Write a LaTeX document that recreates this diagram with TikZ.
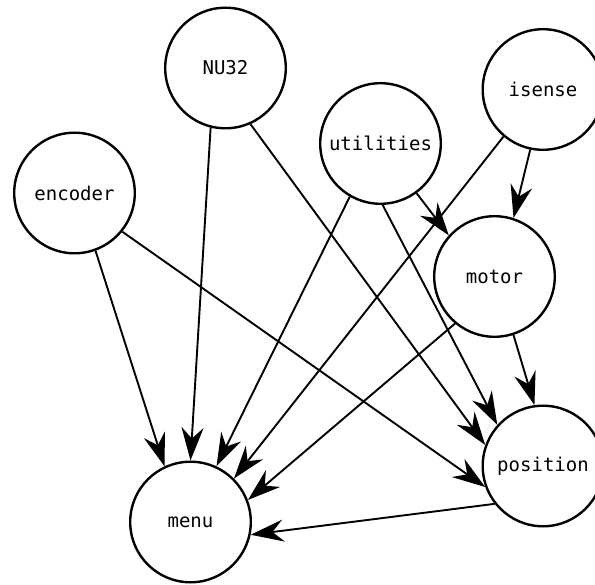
\documentclass[tikz,border=0pt]{standalone}
\usepackage{fontspec}
\setmonofont{DejaVu Sans Mono}
\usetikzlibrary{arrows.meta}
\begin{document}
\begin{tikzpicture}[x=1pt,y=-1pt,
  mod/.style={circle,draw,line width=2.4pt,minimum size=120.6pt,inner sep=0pt,fill=white,
    font=\ttfamily\fontsize{19}{23}\selectfont},
  dep/.style={line width=1.9pt,-{Stealth[length=33pt,width=22pt,inset=11pt]}}]
\useasboundingbox (0,0) rectangle (595,585);
\node[mod] (nu32) at (225.5,68) {NU32};
\node[mod] (isense) at (543,89.5) {isense};
\node[mod] (util) at (380.5,143.5) {utilities};
\node[mod] (enc) at (74.5,193) {encoder};
\node[mod] (motor) at (494.5,276.5) {motor};
\node[mod] (pos) at (543,466) {position};
\node[mod] (menu) at (190.5,522) {menu};

\draw[dep] (nu32.256.6) -- (menu.90.5);
\draw[dep] (nu32.294.7) -- (pos.160);
\draw[dep] (util.240.8) -- (menu.65.9);
\draw[dep] (util.306) -- (motor.138.6);
\draw[dep] (util.272) -- (pos.138.9);
\draw[dep] (isense.230.3) -- (menu.45.1);
\draw[dep] (isense.258.5) -- (motor.72.6);
\draw[dep] (enc.290) -- (menu.115.5);
\draw[dep] (enc.321.2) -- (pos.200.8);
\draw[dep] (motor.230.1) -- (menu.21.7);
\draw[dep] (motor.288.4) -- (pos.98.4);
\draw[dep] (pos.218.5) -- (menu.348.6);
\end{tikzpicture}
\end{document}
